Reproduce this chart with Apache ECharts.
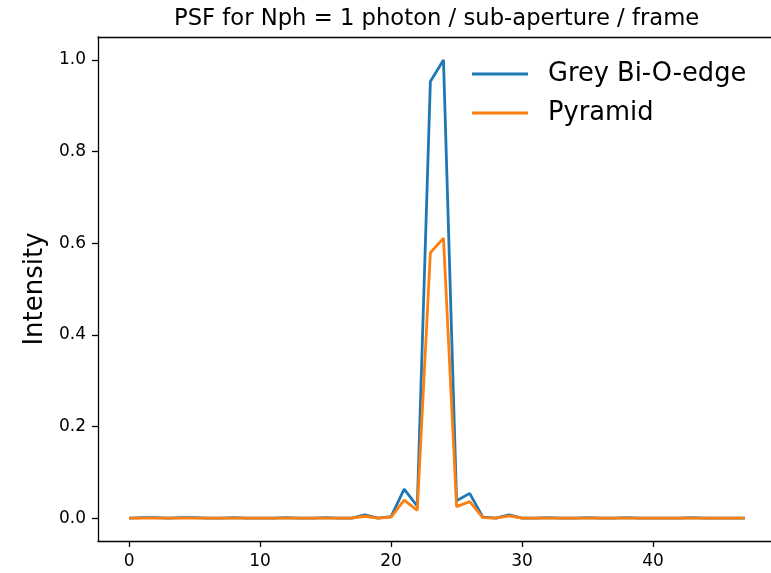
<!DOCTYPE html>
<html>
<head>
<meta charset="utf-8">
<script src="https://cdn.jsdelivr.net/npm/echarts@6/dist/echarts.min.js"></script>
<style>html,body{margin:0;padding:0;background:#fff}#c{width:771px;height:573px}</style>
</head>
<body>
<div id="c"></div>
<script>
const xValues = [0,1,2,3,4,5,6,7,8,9,10,11,12,13,14,15,16,17,18,19,20,21,22,23,24,25,26,27,28,29,30,31,32,33,34,35,36,37,38,39,40,41,42,43,44,45,46,47];
const greyBiOEdge = [0.000,0.001,0.001,0.000,0.001,0.001,0.000,0.000,0.001,0.000,0.000,0.000,0.001,0.000,0.000,0.001,0.000,0.000,0.007,0.000,0.003,0.063,0.026,0.953,1.000,0.038,0.054,0.002,0.000,0.007,0.000,0.000,0.001,0.000,0.000,0.001,0.000,0.000,0.001,0.000,0.000,0.000,0.000,0.001,0.000,0.000,0.000,0.000];
const pyramid = [0.000,0.000,0.000,0.000,0.000,0.000,0.000,0.000,0.000,0.000,0.000,0.000,0.000,0.000,0.000,0.000,0.000,0.000,0.004,0.000,0.002,0.039,0.017,0.579,0.611,0.025,0.036,0.001,0.000,0.005,0.000,0.000,0.000,0.000,0.000,0.000,0.000,0.000,0.000,0.000,0.000,0.000,0.000,0.000,0.000,0.000,0.000,0.000];
const xTicks = [0,10,20,30,40];
const yTicks = [0,0.2,0.4,0.6,0.8,1.0];
const seriesNames = ['Grey Bi-O-edge','Pyramid'];
const colors = ['#1f77b4','#ff7f0e'];

const font = 'DejaVu Sans';
const X_MIN = -2.37, X_MAX = 49.0;
const chart = echarts.init(document.getElementById('c'), null, {renderer:'canvas'});
const axisCommon = {
  axisLine:{show:true,onZero:false,lineStyle:{color:'#000',width:1.3}},
  axisTick:{show:true,inside:false,length:6,lineStyle:{color:'#000',width:1.3}},
  splitLine:{show:false},
  axisLabel:{color:'#000',fontFamily:font,fontSize:17,margin:12}
};
chart.setOption({
  animation:false,
  backgroundColor:'#fff',
  color:colors,
  title:{text:'PSF for Nph = 1 photon / sub-aperture / frame',left:169,top:3,
    textStyle:{fontFamily:font,fontSize:22.7,fontWeight:'normal',color:'#000'}},
  legend:{orient:'vertical',left:472,top:61,padding:0,itemGap:13,itemWidth:56,itemHeight:2.8,icon:'rect',
    data:seriesNames,
    textStyle:{fontFamily:font,fontSize:25.7,color:'#000',padding:[0,0,0,15]}},
  grid:{left:98,right:0,top:37,bottom:32,show:false,containLabel:false},
  xAxis:[
    Object.assign({type:'value',min:X_MIN,max:X_MAX,position:'bottom'},axisCommon,{
      axisTick:Object.assign({},axisCommon.axisTick,{customValues:xTicks}),
      axisLabel:Object.assign({},axisCommon.axisLabel,{customValues:xTicks,formatter:v=>String(v)})
    }),
    {type:'value',min:X_MIN,max:X_MAX,position:'top',axisLine:{show:true,onZero:false,lineStyle:{color:'#000',width:1.3}},
      axisTick:{show:false},axisLabel:{show:false},splitLine:{show:false}}
  ],
  yAxis:Object.assign({type:'value',min:-0.05,max:1.05,name:'Intensity',nameLocation:'middle',nameGap:47,
    nameTextStyle:{fontFamily:font,fontSize:26,color:'#000'}},axisCommon,{
    axisTick:Object.assign({},axisCommon.axisTick,{customValues:yTicks}),
    axisLabel:Object.assign({},axisCommon.axisLabel,{customValues:yTicks,formatter:v=>v.toFixed(1)})
  }),
  series:[
    {name:seriesNames[0],type:'line',xAxisIndex:0,data:xValues.map((x,i)=>[x,greyBiOEdge[i]]),showSymbol:false,symbol:'none',lineStyle:{width:2.8,color:colors[0]},itemStyle:{color:colors[0]}},
    {name:seriesNames[1],type:'line',xAxisIndex:0,data:xValues.map((x,i)=>[x,pyramid[i]]),showSymbol:false,symbol:'none',lineStyle:{width:2.8,color:colors[1]},itemStyle:{color:colors[1]}}
  ]
});
</script>
</body>
</html>
